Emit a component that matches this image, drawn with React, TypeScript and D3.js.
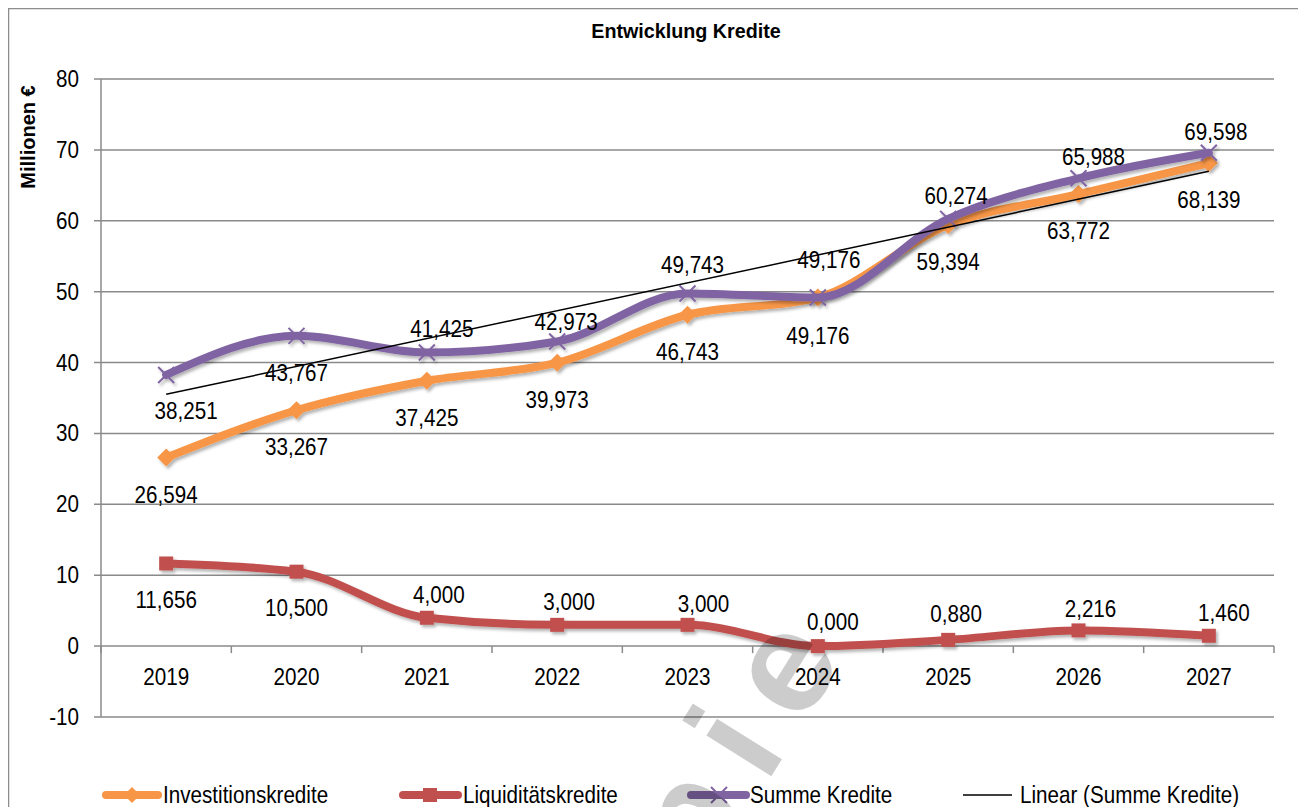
import React from "react";
import * as d3 from "d3";

const years = ["2019", "2020", "2021", "2022", "2023", "2024", "2025", "2026", "2027"];
const investitionskredite = [26.594, 33.267, 37.425, 39.973, 46.743, 49.176, 59.394, 63.772, 68.139];
const liquiditaetskredite = [11.656, 10.5, 4.0, 3.0, 3.0, 0.0, 0.88, 2.216, 1.46];
const summeKredite = [38.251, 43.767, 41.425, 42.973, 49.743, 49.176, 60.274, 65.988, 69.598];
const yTicks = [-10, 0, 10, 20, 30, 40, 50, 60, 70, 80];

// label offsets (px) relative to each point
const investLabelDx = [0, 0, 0, 0, 0, 0, 0, 0, 0];
const investLabelDy = [37, 37, 37, 37, 37, 38, 37, 37, 37];
const liquidLabelDx = [0, 0, 12, 12, 16, 15, 8, 12, 15];
const liquidLabelDy = [36, 36, -23, -23, -21, -24, -26, -21, -23];
const summeLabelDx = [20, 0, 15, 9, 5, 11, 8, 15, 7];
const summeLabelDy = [36, 37, -23, -20, -29, -38, -23, -21, -21];

const FONT = "'Liberation Sans', Arial, sans-serif";
const ORANGE = "#F79646";
const RED = "#C0504D";
const PURPLE = "#8064A2";
const GRID = "#8a8a8a";

const W = 1298;
const H = 830;
const plot = { left: 93, right: 1266, top: 71, bottom: 709 };
const SX = 0.86;
const FS = 24;

const fmt = (v: number) => d3.format(".3f")(v).replace(".", ",");

function T(props: {
  x: number;
  y: number;
  children: React.ReactNode;
  anchor?: "start" | "middle" | "end";
  size?: number;
  weight?: string;
  sx?: number;
  rotate?: number;
}) {
  const { x, y, children, anchor = "middle", size = FS, weight = "normal", sx = SX, rotate = 0 } = props;
  return (
    <text
      transform={`translate(${x},${y}) rotate(${rotate}) scale(${sx},1)`}
      textAnchor={anchor}
      dominantBaseline="central"
      fontSize={size}
      fontWeight={weight}
      fill="#000"
    >
      {children}
    </text>
  );
}

export default function App() {
  const x = d3.scaleBand<string>().domain(years).range([plot.left, plot.right]).padding(0);
  const y = d3.scaleLinear().domain([-10, 80]).range([plot.bottom, plot.top]);
  const cx = (i: number) => (x(years[i]) as number) + x.bandwidth() / 2;

  const line = d3
    .line<number>()
    .x((_, i) => cx(i))
    .y((d) => y(d))
    .curve(d3.curveMonotoneX);

  // linear trendline (least squares) for Summe Kredite
  const xs = summeKredite.map((_, i) => i + 1);
  const mx = d3.mean(xs) as number;
  const my = d3.mean(summeKredite) as number;
  const slope =
    (d3.sum(xs.map((xv, i) => (xv - mx) * (summeKredite[i] - my))) as number) /
    (d3.sum(xs.map((xv) => (xv - mx) ** 2)) as number);
  const icpt = my - slope * mx;
  const trendStart = icpt + slope * 1;
  const trendEnd = icpt + slope * years.length;

  const y0 = y(0);
  const boundaries = d3.range(years.length + 1).map((i) => plot.left + i * x.bandwidth());

  const diamond = (px: number, py: number, s: number) =>
    `M${px},${py - s}L${px + s},${py}L${px},${py + s}L${px - s},${py}Z`;
  const cross = (px: number, py: number, s: number) =>
    `M${px - s},${py - s}L${px + s},${py + s}M${px - s},${py + s}L${px + s},${py - s}`;

  const legendY = 787;

  return (
    <svg width={W} height={H} style={{ display: "block", fontFamily: FONT }}>
      <defs>
        <filter id="shadow" x="-5%" y="-5%" width="110%" height="120%">
          <feDropShadow dx="2" dy="2.5" stdDeviation="1.6" floodColor="#000" floodOpacity="0.3" />
        </filter>
      </defs>
      <rect x={0.5} y={0.5} width={W + 5} height={H + 20} fill="#fff" stroke="#8c8c8c" strokeWidth={1.5} />

      {/* title */}
      <T x={678} y={23} size={21} weight="bold" sx={0.94}>Entwicklung Kredite</T>

      {/* axis title */}
      <T x={20} y={129} size={20} weight="bold" sx={1} rotate={-90}>Millionen €</T>

      {/* gridlines + y ticks */}
      {yTicks.map((t) => (
        <g key={t}>
          <line x1={plot.left - 7} x2={plot.right} y1={y(t)} y2={y(t)} stroke={GRID} strokeWidth={1.5} />
          <T x={71} y={y(t)} anchor="end">{t}</T>
        </g>
      ))}
      <line x1={plot.left} x2={plot.left} y1={plot.top} y2={plot.bottom} stroke={GRID} strokeWidth={1.5} />

      {/* x axis at zero */}
      {boundaries.map((b, i) => (
        <line key={i} x1={b} x2={b} y1={y0} y2={y0 + 7} stroke={GRID} strokeWidth={1.5} />
      ))}
      {years.map((yr, i) => (
        <T key={yr} x={cx(i)} y={y0 + 31}>{yr}</T>
      ))}

      {/* series lines */}
      <g filter="url(#shadow)">
        <path d={line(investitionskredite) as string} fill="none" stroke={ORANGE} strokeWidth={8} strokeLinejoin="round" strokeLinecap="round" />
        {investitionskredite.map((v, i) => (
          <path key={i} d={diamond(cx(i), y(v), 9)} fill={ORANGE} />
        ))}
      </g>
      <g filter="url(#shadow)">
        <path d={line(liquiditaetskredite) as string} fill="none" stroke={RED} strokeWidth={8} strokeLinejoin="round" strokeLinecap="round" />
        {liquiditaetskredite.map((v, i) => (
          <rect key={i} x={cx(i) - 7} y={y(v) - 7} width={14} height={14} fill={RED} />
        ))}
      </g>
      <g filter="url(#shadow)">
        <path d={line(summeKredite) as string} fill="none" stroke={PURPLE} strokeWidth={8} strokeLinejoin="round" strokeLinecap="round" />
        {summeKredite.map((v, i) => (
          <path key={i} d={cross(cx(i), y(v), 8)} stroke={PURPLE} strokeWidth={2} />
        ))}
      </g>

      {/* data labels */}
      {investitionskredite.map((v, i) => (
        <T key={"i" + i} x={cx(i) + investLabelDx[i]} y={y(v) + investLabelDy[i]}>{fmt(v)}</T>
      ))}
      {liquiditaetskredite.map((v, i) => (
        <T key={"l" + i} x={cx(i) + liquidLabelDx[i]} y={y(v) + liquidLabelDy[i]}>{fmt(v)}</T>
      ))}
      {summeKredite.map((v, i) => (
        <T key={"s" + i} x={cx(i) + summeLabelDx[i]} y={y(v) + summeLabelDy[i]}>{fmt(v)}</T>
      ))}

      {/* trendline */}
      <line x1={cx(0)} y1={y(trendStart)} x2={cx(years.length - 1)} y2={y(trendEnd)} stroke="#000" strokeWidth={1.5} />

      {/* legend */}
      <g>
        <line x1={98} x2={150} y1={legendY} y2={legendY} stroke={ORANGE} strokeWidth={8} strokeLinecap="round" />
        <path d={diamond(124, legendY, 8)} fill={ORANGE} />
        <T x={155} y={legendY} anchor="start">Investitionskredite</T>

        <line x1={395} x2={450} y1={legendY} y2={legendY} stroke={RED} strokeWidth={8} strokeLinecap="round" />
        <rect x={415} y={legendY - 7} width={14} height={14} fill={RED} />
        <T x={455} y={legendY} anchor="start">Liquiditätskredite</T>

        <line x1={683} x2={738} y1={legendY} y2={legendY} stroke={PURPLE} strokeWidth={8} strokeLinecap="round" />
        <path d={cross(711, legendY, 8)} stroke={PURPLE} strokeWidth={2} />
        <T x={742} y={legendY} anchor="start">Summe Kredite</T>

        <line x1={955} x2={1004} y1={legendY} y2={legendY} stroke="#000" strokeWidth={1.5} />
        <T x={1012} y={legendY} anchor="start">Linear (Summe Kredite)</T>
      </g>

      {/* watermark */}
      <text
        transform="translate(564,1087) rotate(-58)"
        textAnchor="start"
        fontSize={145}
        fontWeight="bold"
        letterSpacing={28}
        fontFamily="'Liberation Sans', Arial, sans-serif"
        fill="#000"
        fillOpacity={0.2}
      >
        Kopie
      </text>
    </svg>
  );
}
